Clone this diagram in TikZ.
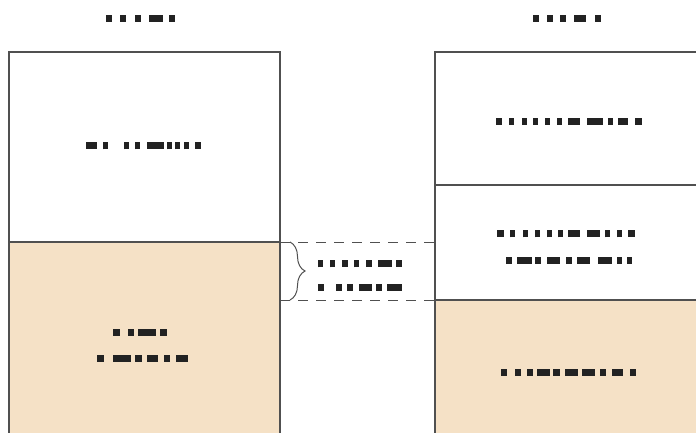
\documentclass[tikz,border=0pt]{standalone}
\usetikzlibrary{decorations.pathreplacing}
\definecolor{tanfill}{HTML}{F5E1C6}
\definecolor{edgegray}{HTML}{505050}
\definecolor{inkdark}{HTML}{222222}
\newcommand\redact[1]{\foreach \w/\g in {#1}{\rule{\w pt}{7pt}\hspace{\g pt}}}
\tikzset{
  lbl/.style={inner sep=0pt, anchor=south west, text=inkdark},
  box/.style={draw=edgegray, line width=1.1pt},
  dashline/.style={draw=edgegray, line width=1pt, dash pattern=on 10pt off 8pt},
}
\begin{document}
\begin{tikzpicture}[x=1pt,y=-1pt]
\useasboundingbox (0,0) rectangle (696,432);
\clip (0,0) rectangle (696,432);
% left column
\fill[white] (9,52) rectangle (280,242);
\fill[tanfill] (9,242) rectangle (280,445);
\draw[box] (9,445) -- (9,52) -- (280,52) -- (280,445);
\draw[box] (9,242) -- (280,242);
% right column
\fill[white] (435,52) rectangle (705,300);
\fill[tanfill] (435,300) rectangle (705,445);
\draw[box] (705,52) -- (435,52) -- (435,445);
\draw[box] (435,185) -- (705,185);
\draw[box] (435,300) -- (705,300);
% dashed link
\coordinate (lt) at (280,242);
\coordinate (lb) at (280,300);
\coordinate (rt) at (435,242);
\coordinate (rb) at (435,300);
\draw[dashline] (lt) -- (rt);
\draw[dashline] (lb) -- (rb);
\coordinate (bt) at (290,242);
\coordinate (bb) at (290,300);
\draw[edgegray, line width=1pt, decorate, decoration={brace, amplitude=15pt}] (bt) -- (bb);
% labels
\node[lbl] (t1) at (106,22) {\redact{6/8,6/9,6/8,14/6,6/0}};
\node[lbl] (t2) at (533,22) {\redact{6/8,6/7,6/8,12/9,6/0}};
\node[lbl] (l1) at (86,149.5) {\redact{11/6,5/16,5/6,5/7,17/3,5/3,5/4,5/6,6/0}};
\node[lbl] (r1) at (496,125) {\redact{6/7,5/8,5/6,5/7,5/7,5/6,12/7,16/5,5/5,10/7,7/0}};
\node[lbl] (r2a) at (497,237.5) {\redact{7/6,5/8,5/7,5/7,5/6,5/5,12/7,13/5,5/7,5/6,7/0}};
\node[lbl] (r2b) at (506,264) {\redact{6/5,15/3,6/6,13/6,6/5,13/8,14/5,5/5,5/0}};
\node[lbl] (m1) at (318,267.5) {\redact{5/7,5/7,6/6,5/7,6/6,14/4,6/0}};
\node[lbl] (m2) at (318,291) {\redact{6/12,6/5,6/6,13/4,6/5,15/0}};
\node[lbl] (l2a) at (113,336) {\redact{7/8,6/4,18/4,7/0}};
\node[lbl] (l2b) at (97,362) {\redact{7/9,18/4,7/5,11/6,6/6,12/0}};
\node[lbl] (r3) at (501,376) {\redact{6/8,6/6,6/4,13/3,7/5,13/4,13/5,6/6,11/7,6/0}};
\end{tikzpicture}
\end{document}
